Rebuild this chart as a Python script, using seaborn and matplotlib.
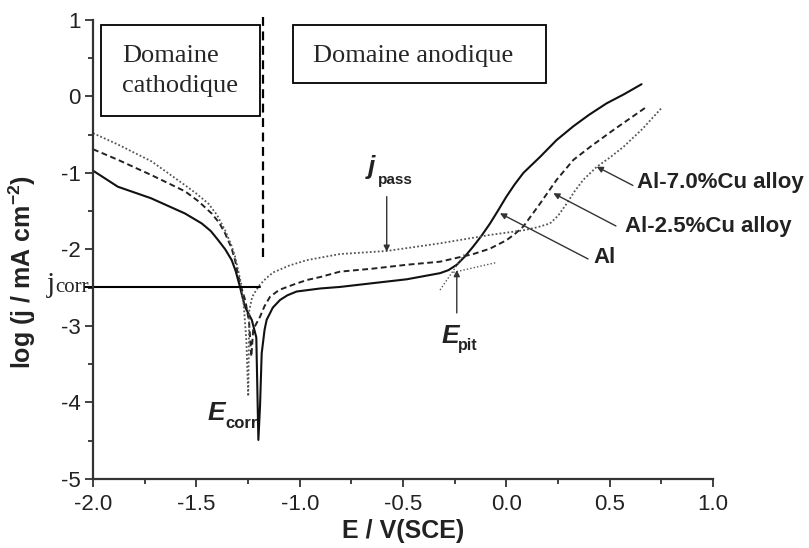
import numpy as np
import pandas as pd
import matplotlib
matplotlib.use("Agg")
import matplotlib.pyplot as plt
from matplotlib.patches import Rectangle
import seaborn as sns

# courbes de polarisation
E_al = [-2.00, -1.88, -1.72, -1.555, -1.474, -1.43, -1.394, -1.36, -1.329, -1.31, -1.289, -1.265,
        -1.232, -1.210, -1.200, -1.192, -1.184, -1.170, -1.160, -1.13, -1.095, -1.06, -1.015, -0.90,
        -0.805, -0.644, -0.482, -0.321, -0.28, -0.24, -0.20, -0.16, -0.12, -0.079, -0.04, 0.0,
        0.04, 0.082, 0.163, 0.243, 0.324, 0.40, 0.485, 0.57, 0.654]
j_al = [-0.97, -1.18, -1.33, -1.53, -1.66, -1.76, -1.88, -2.00, -2.14, -2.28, -2.49, -2.75,
        -2.92, -3.15, -4.49, -4.05, -3.36, -3.05, -2.92, -2.76, -2.66, -2.60, -2.55, -2.51,
        -2.49, -2.44, -2.39, -2.31, -2.27, -2.20, -2.09, -1.96, -1.82, -1.66, -1.49, -1.31,
        -1.15, -1.00, -0.79, -0.57, -0.39, -0.24, -0.09, 0.03, 0.16]

E_cu25 = [-2.00, -1.878, -1.716, -1.555, -1.49, -1.426, -1.39, -1.361, -1.33, -1.313, -1.289, -1.262,
          -1.245, -1.234, -1.225, -1.21, -1.192, -1.17, -1.144, -1.10, -1.031, -0.966, -0.90, -0.805,
          -0.644, -0.482, -0.321, -0.16, -0.08, 0.0, 0.04, 0.082, 0.12, 0.163, 0.243, 0.324,
          0.405, 0.517, 0.671]
j_cu25 = [-0.69, -0.83, -1.03, -1.24, -1.37, -1.53, -1.65, -1.79, -1.98, -2.14, -2.44, -2.68,
          -2.95, -3.40, -3.05, -2.97, -2.88, -2.74, -2.62, -2.53, -2.46, -2.40, -2.36, -2.29,
          -2.25, -2.20, -2.16, -2.06, -1.99, -1.88, -1.80, -1.70, -1.56, -1.40, -1.09, -0.83,
          -0.66, -0.44, -0.15]

E_cu70 = [-2.00, -1.878, -1.716, -1.555, -1.50, -1.442, -1.40, -1.361, -1.33, -1.313, -1.284, -1.270,
          -1.258, -1.249, -1.244, -1.230, -1.21, -1.192, -1.16, -1.128, -1.05, -0.966, -0.805, -0.579,
          -0.321, -0.079, 0.082, 0.15, 0.211, 0.25, 0.292, 0.33, 0.372, 0.437, 0.50, 0.566,
          0.66, 0.751]
j_cu70 = [-0.48, -0.63, -0.85, -1.16, -1.27, -1.40, -1.55, -1.75, -1.95, -2.09, -2.44, -2.75,
          -3.20, -3.92, -2.80, -2.62, -2.53, -2.46, -2.37, -2.30, -2.21, -2.14, -2.06, -2.02,
          -1.92, -1.81, -1.75, -1.71, -1.66, -1.56, -1.40, -1.24, -1.09, -0.92, -0.80, -0.66,
          -0.42, -0.15]

# droites de construction autour de E_pit
E_tan1 = [-0.321, -0.20]
j_tan1 = [-2.53, -2.05]
E_tan2 = [-0.257, -0.047]
j_tan2 = [-2.30, -2.17]

E_corr_line = [-2.04, -1.19]
j_corr_line = [-2.49, -2.49]
E_sep = [-1.176, -1.176]
j_sep = [1.04, -2.16]

sns.set_style("ticks")
plt.rcParams['font.family'] = ['Liberation Sans', 'DejaVu Sans']
plt.rcParams['axes.unicode_minus'] = False

fig = plt.figure(figsize=(8.09, 5.48), dpi=100)
ax = fig.add_axes([0.115, 0.126, 0.7664, 0.8376])

curves = [
    (E_al, j_al, '#111111', 1.5, '-'),
    (E_cu25, j_cu25, '#222222', 1.4, (0, (3, 1.8))),
    (E_cu70, j_cu70, '#555555', 1.3, (0, (1, 1.2))),
]
for E, j, col, lw, ls in curves:
    df = pd.DataFrame({'E': E, 'logj': j})
    sns.lineplot(data=df, x='E', y='logj', sort=False, estimator=None, ax=ax,
                 color=col, linewidth=lw, linestyle=ls)

ax.plot(E_tan1, j_tan1, color='#555555', lw=1.0, ls=(0, (1, 1.5)))
ax.plot(E_tan2, j_tan2, color='#555555', lw=1.0, ls=(0, (1, 1.5)))

# lignes ajoutees
ax.plot(E_corr_line, j_corr_line, color='black', lw=1.5, clip_on=False)
ax.plot(E_sep, j_sep, color='black', lw=1.6, ls=(0, (4, 2.5)), clip_on=False)

ax.set_xlim(-2, 1)
ax.set_ylim(-5, 1)
ax.set_xticks(np.arange(-2, 1.01, 0.5))
ax.set_xticks(np.arange(-2, 1.01, 0.25), minor=True)
ax.set_yticks(np.arange(-5, 1.01, 1))
ax.set_yticks(np.arange(-5, 1.01, 0.5), minor=True)
ax.xaxis.set_major_formatter(matplotlib.ticker.FormatStrFormatter('%.1f'))
ax.yaxis.set_major_formatter(matplotlib.ticker.FormatStrFormatter('%d'))
sns.despine(ax=ax)
for s in ['left', 'bottom']:
    ax.spines[s].set_linewidth(1.6)
    ax.spines[s].set_color('#333333')
ax.tick_params(which='major', length=6, width=1.3, color='#333333', labelsize=16,
               labelcolor='#222222', direction='out')
ax.tick_params(which='minor', length=3.5, width=1.3, color='#333333', direction='out')
ax.tick_params(axis='x', which='major', pad=5)
ax.tick_params(axis='y', which='major', pad=3)

ax.set_xlabel('E / V(SCE)', fontsize=18, fontweight='bold', color='#222222', labelpad=3)
ax.set_ylabel(r'log (j / mA cm$^{\mathregular{-2}}$)', fontsize=18, fontweight='bold', color='#222222')
ax.yaxis.set_label_coords(-0.089, 0.451)

# cadres "Domaine"
serif = ['Liberation Serif', 'DejaVu Serif']
ax.add_patch(Rectangle((-1.961, -0.255), 0.769, 1.19, fill=False, ec='black', lw=1.3, zorder=5))
ax.add_patch(Rectangle((-1.032, 0.18), 1.224, 0.755, fill=False, ec='black', lw=1.3, zorder=5))
ax.text(-1.86, 0.455, 'Domaine', family=serif, fontsize=19, va='baseline')
ax.text(-1.86, 0.063, 'cathodique', family=serif, fontsize=19, va='baseline')
ax.text(-0.936, 0.455, 'Domaine anodique', family=serif, fontsize=19, va='baseline')

# j_corr
ax.text(-2.223, -2.556, 'j', family=serif, fontsize=21, va='baseline', clip_on=False)
ax.text(-2.184, -2.556, 'corr', family=serif, fontsize=15, va='baseline', clip_on=False)

# E_corr
ax.text(-1.444, -4.23, 'E', fontsize=19, fontweight='bold', style='italic', color='#222222', va='baseline')
ax.text(-1.361, -4.33, 'corr', fontsize=12, fontweight='bold', color='#222222', va='baseline')

# j_pass
arrow = dict(arrowstyle='-|>', lw=1.0, color='#333333', mutation_scale=9, shrinkA=0, shrinkB=0)
ax.annotate('', xy=(-0.579, -2.03), xytext=(-0.579, -1.31), arrowprops=arrow)
ax.text(-0.670, -1.02, 'j', fontsize=19, fontweight='bold', style='italic', color='#222222', va='baseline')
ax.text(-0.621, -1.15, 'pass', fontsize=11, fontweight='bold', color='#222222', va='baseline')

# E_pit
ax.annotate('', xy=(-0.240, -2.27), xytext=(-0.240, -2.83), arrowprops=arrow)
ax.text(-0.312, -3.22, 'E', fontsize=19, fontweight='bold', style='italic', color='#222222', va='baseline')
ax.text(-0.234, -3.31, 'pit', fontsize=11.5, fontweight='bold', color='#222222', va='baseline')

# etiquettes des courbes
labels = ['Al-7.0%Cu alloy', 'Al-2.5%Cu alloy', 'Al']
heads = [(0.437, -0.918), (0.227, -1.265), (-0.031, -1.527)]
tails = [(0.612, -1.163), (0.530, -1.693), (0.395, -2.124)]
text_pos = [(0.632, -1.13), (0.574, -1.706), (0.419, -2.11)]
for lab, h, t, p in zip(labels, heads, tails, text_pos):
    ax.annotate('', xy=h, xytext=t, arrowprops=arrow, annotation_clip=False)
    ax.text(p[0], p[1], lab, fontsize=16, fontweight='bold', color='#222222',
            ha='left', va='center', clip_on=False)

fig.savefig('out.png', dpi=100)
